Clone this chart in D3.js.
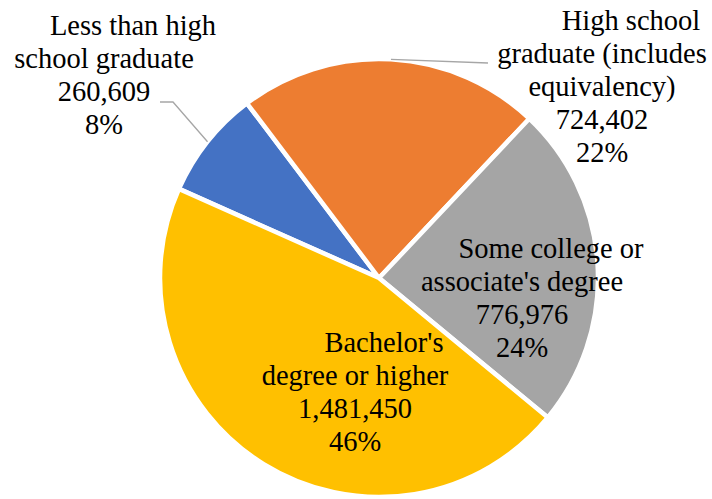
<!DOCTYPE html>
<html>
<head>
<meta charset="utf-8">
<script src="https://cdn.jsdelivr.net/npm/d3@7"></script>
<style>
  body { margin: 0; background: #fff; }
  svg { display: block; }
  text.lbl { font-family: 'Liberation Serif', 'Times New Roman', Times, 'DejaVu Serif', serif; font-size: 28.5px; fill: #000; }
</style>
</head>
<body>
<svg id="chart" width="712" height="499"></svg>
<script>
// data
const categories = ["Less than high school graduate", "High school graduate (includes equivalency)", "Some college or associate's degree", "Bachelor's degree or higher"];
const values = [260609, 724402, 776976, 1481450];
const labelLines = [
    ["Less than high", "school graduate"],
    ["High school", "graduate (includes", "equivalency)"],
    ["Some college or", "associate's degree"],
    ["Bachelor's", "degree or higher"]
];
const colors = ["#4472C4", "#ED7D31", "#A5A5A5", "#FFC000"];

// layout of the label boxes (centre x, first baseline), leader elbows
const labelPos = [
    {x: 104, y: 35, leader: [[173, 102], [160, 102]]},
    {x: 602, y: 30, leader: [[488, 63]]},
    {x: 522, y: 258},
    {x: 355, y: 352}
];

function main() {
    var svg = d3.select("#chart"),
        cx = 379, cy = 278, radius = 219;
    var g = svg.append("g").attr("transform", "translate(" + cx + "," + cy + ")");

    var start = -66 * Math.PI / 180;
    var pie = d3.pie().sort(null).startAngle(start).endAngle(start + 2 * Math.PI);
    var arc = d3.arc().innerRadius(0).outerRadius(radius);
    var arcs = pie(values);
    var total = d3.sum(values);
    var fmt = d3.format(",");

    g.selectAll("path.slice")
        .data(arcs)
        .enter().append("path")
        .attr("class", "slice")
        .attr("d", arc)
        .attr("fill", (d, i) => colors[i])
        .attr("stroke", "#fff")
        .attr("stroke-width", 4.5)
        .attr("stroke-linejoin", "round");

    // leader lines
    arcs.forEach(function (d, i) {
        var lp = labelPos[i];
        if (!lp.leader) return;
        var a = (d.startAngle + d.endAngle) / 2;
        var pts = [[Math.sin(a) * radius, -Math.cos(a) * radius]];
        lp.leader.forEach(p => pts.push([p[0] - cx, p[1] - cy]));
        g.append("path")
            .attr("d", d3.line()(pts))
            .attr("fill", "none")
            .attr("stroke", "#A6A6A6")
            .attr("stroke-width", 1.3);
    });

    // labels
    arcs.forEach(function (d, i) {
        var lp = labelPos[i];
        var lines = labelLines[i].concat([fmt(values[i]), Math.round(values[i] / total * 100) + "%"]);
        var t = svg.append("text")
            .attr("class", "lbl")
            .attr("font-family", "'Liberation Serif', 'Times New Roman', serif")
            .attr("text-anchor", "middle");
        lines.forEach(function (s, j) {
            t.append("tspan")
                .attr("x", lp.x + (j === 0 ? 29 : 0))
                .attr("y", lp.y + j * 33)
                .text(s);
        });
    });
}

main();
</script>
</body>
</html>
